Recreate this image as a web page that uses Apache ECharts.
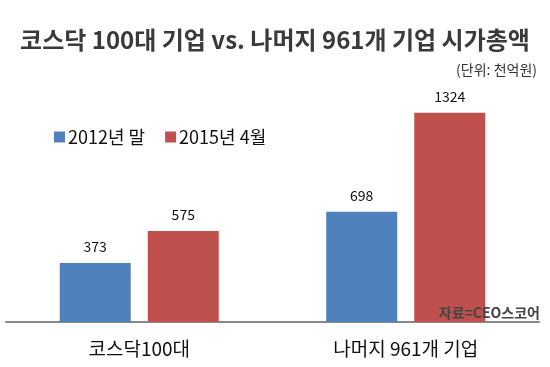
<!DOCTYPE html>
<html><head><meta charset="utf-8">
<script src="https://cdn.jsdelivr.net/npm/echarts@6/dist/echarts.min.js"></script>
<style>html,body{margin:0;padding:0;background:#fff}#c{width:550px;height:367px}</style>
</head><body><div id="c"></div>
<script>
var categories = ['코스닥100대', '나머지 961개 기업'];
var seriesNames = ['2012년 말', '2015년 4월'];
var values2012 = [373, 698];
var values2015 = [575, 1324];
var FONT = '"Noto Sans CJK KR", "Noto Sans", sans-serif';
var chart = echarts.init(document.getElementById('c'));
chart.setOption({
  animation: false,
  backgroundColor: '#fff',
  title: [
    {text: '코스닥 100대 기업 vs. 나머지 961개 기업 시가총액', left: 'center', top: 23,
     textStyle: {fontFamily: FONT, fontSize: 24, fontWeight: 'bold', color: '#3a3a3a'}},
    {text: '(단위: 천억원)', right: 8, top: 58,
     textStyle: {fontFamily: FONT, fontSize: 14, fontWeight: 'normal', color: '#333'}},
    {text: '자료=CEO스코어', right: 5, top: 301,
     textStyle: {fontFamily: FONT, fontSize: 14, fontWeight: 'bold', color: '#444'}}
  ],
  legend: {
    left: 49, top: 123, itemWidth: 11, itemHeight: 11, itemGap: 20,
    icon: 'rect',
    textStyle: {fontFamily: FONT, fontSize: 18, color: '#111', padding: [0,0,0,-2]},
    data: seriesNames
  },
  grid: {left: 6, right: 11, top: 100.7, bottom: 45, containLabel: false},
  xAxis: {
    type: 'category', data: categories,
    axisLine: {lineStyle: {color: '#888', width: 2}},
    axisTick: {show: false},
    axisLabel: {fontFamily: FONT, fontSize: 19, color: '#111', margin: 17}
  },
  yAxis: {type: 'value', min: 0, max: 1400, show: false, splitLine: {show: false}},
  series: [
    {name: seriesNames[0], type: 'bar', data: values2012, barWidth: 71, barGap: '24%',
     itemStyle: {color: '#4F81BD'},
     label: {show: true, position: 'top', distance: 9, fontFamily: FONT, fontSize: 14, color: '#111'}},
    {name: seriesNames[1], type: 'bar', data: values2015, barWidth: 71,
     itemStyle: {color: '#C0504D'},
     label: {show: true, position: 'top', distance: 9, fontFamily: FONT, fontSize: 14, color: '#111'}}
  ]
});
</script></body></html>
